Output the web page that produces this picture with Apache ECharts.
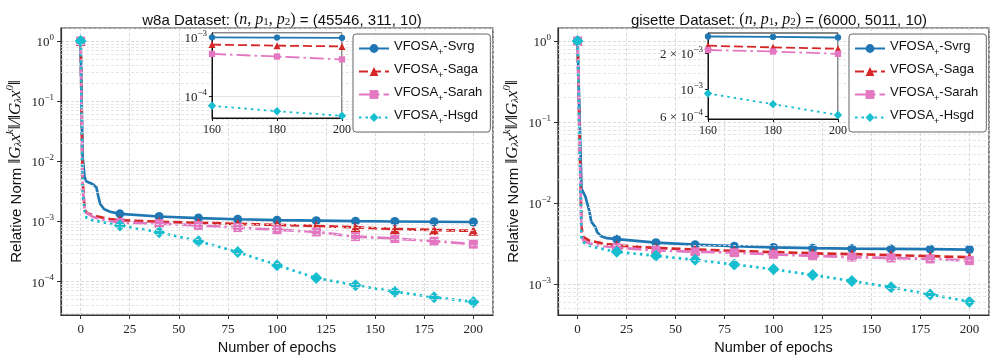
<!DOCTYPE html>
<html>
<head>
<meta charset="utf-8">
<script src="https://cdn.jsdelivr.net/npm/echarts@6.0.0/dist/echarts.min.js"></script>
<style>
  html, body { margin: 0; padding: 0; background: #fff; }
  #chart { width: 997px; height: 361px; }
</style>
</head>
<body>
<div id="chart"></div>
<script>
// ---- data ----
var seriesNames = ['VFOSA+-Svrg', 'VFOSA+-Saga', 'VFOSA+-Sarah', 'VFOSA+-Hsgd'];

// w8a panel
var w8aEpochs = [0, 1, 2, 3, 4, 6, 8, 9, 10, 12, 15, 20, 40, 60, 80, 100, 120, 140, 160, 180, 200];
var w8aSvrg  = [1, 1.2e-2, 5.5e-3, 4.6e-3, 4.4e-3, 4.2e-3, 3.7e-3, 2.6e-3, 1.95e-3, 1.6e-3, 1.45e-3, 1.34e-3, 1.21e-3, 1.14e-3, 1.09e-3, 1.05e-3, 1.03e-3, 1.01e-3, 1.0e-3, 0.99e-3, 0.98e-3];
var w8aSaga  = [1, 5e-3, 1.6e-3, 1.4e-3, 1.33e-3, 1.27e-3, 1.22e-3, 1.2e-3, 1.18e-3, 1.14e-3, 1.1e-3, 1.05e-3, 0.99e-3, 0.95e-3, 0.91e-3, 0.88e-3, 0.84e-3, 0.8e-3, 0.75e-3, 0.72e-3, 0.7e-3];
var w8aSarah = [1, 4e-3, 1.7e-3, 1.4e-3, 1.3e-3, 1.2e-3, 1.14e-3, 1.12e-3, 1.1e-3, 1.06e-3, 1.02e-3, 0.96e-3, 0.92e-3, 0.86e-3, 0.79e-3, 0.73e-3, 0.67e-3, 0.56e-3, 0.52e-3, 0.47e-3, 0.42e-3];
var w8aHsgd  = [1, 3e-3, 1.5e-3, 1.15e-3, 1.1e-3, 1.05e-3, 1.02e-3, 1.0e-3, 0.99e-3, 0.96e-3, 0.92e-3, 0.86e-3, 0.66e-3, 0.47e-3, 0.31e-3, 1.88e-4, 1.15e-4, 8.7e-5, 6.8e-5, 5.5e-5, 4.6e-5];

// gisette panel
var gisEpochs = [0, 2, 3, 4, 6, 7, 8, 9, 10, 12, 15, 20, 40, 60, 80, 100, 120, 140, 160, 180, 200];
var gisSvrg  = [1, 1.5e-2, 1.35e-2, 1.2e-2, 8e-3, 5.9e-3, 5.6e-3, 5.1e-3, 4.4e-3, 3.9e-3, 3.7e-3, 3.6e-3, 3.26e-3, 3.08e-3, 2.95e-3, 2.85e-3, 2.79e-3, 2.75e-3, 2.73e-3, 2.71e-3, 2.68e-3];
var gisSaga  = [1, 5e-3, 3.8e-3, 3.6e-3, 3.45e-3, 3.42e-3, 3.38e-3, 3.35e-3, 3.3e-3, 3.22e-3, 3.12e-3, 3.02e-3, 2.8e-3, 2.68e-3, 2.58e-3, 2.49e-3, 2.41e-3, 2.35e-3, 2.29e-3, 2.22e-3, 2.16e-3];
var gisSarah = [1, 4e-3, 3.45e-3, 3.3e-3, 3.2e-3, 3.15e-3, 3.1e-3, 3.07e-3, 3.04e-3, 2.98e-3, 2.92e-3, 2.82e-3, 2.62e-3, 2.52e-3, 2.45e-3, 2.34e-3, 2.24e-3, 2.16e-3, 2.11e-3, 2.05e-3, 1.96e-3];
var gisHsgd  = [1, 3.6e-3, 3.3e-3, 3.15e-3, 3.0e-3, 2.92e-3, 2.88e-3, 2.85e-3, 2.82e-3, 2.75e-3, 2.65e-3, 2.52e-3, 2.24e-3, 2.0e-3, 1.75e-3, 1.53e-3, 1.3e-3, 1.1e-3, 9.2e-4, 7.5e-4, 6.1e-4];

// tick labels of the gisette inset
var gisInsetTicks = [6e-4, 1e-3, 2e-3];

var chart = echarts.init(document.getElementById('chart'));

var SERIF = 'Liberation Serif';
var SANS = 'Liberation Sans';
var styles = [
  {color: '#1f77b4', symbol: 'circle',   type: 'solid',           size: 9},
  {color: '#d62728', symbol: 'triangle', type: [9, 4],            size: 10},
  {color: '#e377c2', symbol: 'rect',     type: [14, 4, 2.5, 4],   size: 9},
  {color: '#17becf', symbol: 'diamond',  type: [2.5, 4],          size: 12}
];

var supRich = {
  b: {fontFamily: SERIF, fontSize: 13, color: '#222', verticalAlign: 'bottom', lineHeight: 16},
  p: {fontFamily: SERIF, fontSize: 9, color: '#222', verticalAlign: 'top', lineHeight: 8}
};
function expLabel(v) {
  var k = Math.round(v);
  if (Math.abs(v - k) > 1e-6) return '';
  return '{b|10}{p|' + (k === 0 ? '0' : '\u2212' + (-k)) + '}';
}
function insetGisLabel(v) {
  var real = Math.pow(10, v);
  var k = Math.floor(v + 1e-9);
  var m = Math.round(real / Math.pow(10, k));
  var head = m === 1 ? '10' : m + ' \u00d7 10';
  return '{b|' + head + '}{p|\u2212' + (-k) + '}';
}
function minorLevels(lo, hi) {
  var out = [];
  for (var d = Math.floor(lo); d <= Math.ceil(hi); d++) {
    for (var k = 2; k <= 9; k++) {
      var v = d + Math.log10(k);
      if (v > lo && v < hi) out.push({yAxis: v});
    }
  }
  return out;
}

function lineSeries(name, epochs, vals, st, idx, inset) {
  var data = [];
  for (var i = 0; i < epochs.length; i++) {
    if (inset && epochs[i] < 160) continue;
    var item = {value: [epochs[i], Math.log10(vals[i])]};
    if (epochs[i] % 20 !== 0) item.symbol = 'none';
    data.push(item);
  }
  return {
    type: 'line', name: name, xAxisIndex: idx, yAxisIndex: idx,
    data: data, symbol: st.symbol,
    symbolSize: inset ? st.size * 0.7 : st.size,
    showAllSymbol: true, clip: true, animation: false,
    z: inset ? 12 : 2,
    itemStyle: {color: st.color, borderWidth: 0, borderType: 'solid'},
    lineStyle: {color: st.color, width: inset ? 1.8 : 2.7, type: st.type},
    emphasis: {disabled: true}
  };
}
function gridHelper(idx, lo, hi, inset) {
  return {
    type: 'line', xAxisIndex: idx, yAxisIndex: idx, data: [], silent: true,
    z: inset ? 11 : 1, animation: false,
    markLine: {
      silent: true, symbol: ['none', 'none'], label: {show: false}, animation: false,
      lineStyle: inset ? {color: '#e6e6e6', width: 0.8, type: 'solid'}
                       : {color: '#e0e0e0', width: 0.8, type: [3, 2]},
      data: minorLevels(lo, hi)
    }
  };
}

var panels = [
  {epochs: w8aEpochs, vals: [w8aSvrg, w8aSaga, w8aSarah, w8aHsgd],
   yMin: -4.555, yMax: 0.217, inMin: -4.375, inMax: -2.927},
  {epochs: gisEpochs, vals: [gisSvrg, gisSaga, gisSarah, gisHsgd],
   yMin: -3.379, yMax: 0.16, inMin: Math.log10(5.65e-4), inMax: Math.log10(2.92e-3)}
];

var grids = [
  {left: 61, top: 28, width: 432, height: 287},
  {left: 212, top: 33, width: 130, height: 85},
  {left: 558, top: 28, width: 431, height: 287},
  {left: 708, top: 33, width: 130, height: 86}
];

var xAxes = [], yAxes = [], series = [];
var yName = '{t|Relative Norm }{m|\u2016G}{s|\u03bb}{m|x}{u|k}{m|\u2016/\u2016G}{s|\u03bb}{m|x}{u|0}{m|\u2016}';
var yNameRich = {
  t: {fontFamily: SANS, fontSize: 15, color: '#111', verticalAlign: 'bottom', lineHeight: 19},
  m: {fontFamily: SERIF, fontStyle: 'italic', fontSize: 17, color: '#111', verticalAlign: 'bottom', lineHeight: 19},
  s: {fontFamily: SERIF, fontStyle: 'italic', fontSize: 11, color: '#111', verticalAlign: 'bottom', lineHeight: 15},
  u: {fontFamily: SERIF, fontStyle: 'italic', fontSize: 11, color: '#111', verticalAlign: 'top', lineHeight: 10}
};

panels.forEach(function (p, pi) {
  var mi = pi * 2, ii = pi * 2 + 1;
  grids[mi].show = true; grids[mi].borderColor = '#333'; grids[mi].borderWidth = 1.2;
  grids[ii].show = true; grids[ii].borderColor = '#111'; grids[ii].borderWidth = 1;
  grids[ii].backgroundColor = '#fff'; grids[ii].z = 10;

  xAxes[mi] = {
    gridIndex: mi, type: 'value', min: -10, max: 210, minInterval: 25, maxInterval: 25,
    axisLine: {show: true, onZero: false, lineStyle: {color: '#333', width: 1.2}},
    axisTick: {show: true, length: 4, lineStyle: {color: '#333'}},
    axisLabel: {showMinLabel: false, showMaxLabel: false, fontFamily: SERIF, fontSize: 13, color: '#222', margin: 8},
    splitLine: {show: true, lineStyle: {color: '#cfcfcf', width: 0.8, type: [3, 2]}},
    name: 'Number of epochs', nameLocation: 'middle', nameGap: 25,
    nameTextStyle: {fontFamily: SANS, fontSize: 14.5, color: '#111'}
  };
  yAxes[mi] = {
    gridIndex: mi, type: 'value', min: p.yMin, max: p.yMax, minInterval: 1, maxInterval: 1,
    axisLine: {show: true, onZero: false, lineStyle: {color: '#333', width: 1.2}},
    axisTick: {show: true, length: 4, lineStyle: {color: '#333'}},
    axisLabel: {showMinLabel: false, showMaxLabel: false, formatter: expLabel, rich: supRich, margin: 7},
    splitLine: {show: true, lineStyle: {color: '#cfcfcf', width: 0.8, type: [3, 2]}},
    name: yName, nameLocation: 'middle', nameRotate: 90, nameGap: 37,
    nameTextStyle: {rich: yNameRich}
  };
  xAxes[ii] = {
    gridIndex: ii, type: 'value', min: 160, max: 200, interval: 20, z: 11,
    axisLine: {show: true, onZero: false, lineStyle: {color: '#111', width: 1}},
    axisTick: {show: true, length: 3, lineStyle: {color: '#111'}},
    axisLabel: {fontFamily: SERIF, fontSize: 12, color: '#222', margin: 6},
    splitLine: {show: true, lineStyle: {color: '#dcdcdc', width: 0.8}}
  };
  var inY = {
    gridIndex: ii, type: 'value', min: p.inMin, max: p.inMax, z: 11,
    axisLine: {show: true, onZero: false, lineStyle: {color: '#111', width: 1}},
    axisTick: {show: true, length: 3, lineStyle: {color: '#111'}},
    splitLine: {show: true, lineStyle: {color: '#dcdcdc', width: 0.8}}
  };
  if (pi === 0) {
    inY.minInterval = 1; inY.maxInterval = 1;
    inY.axisLabel = {showMinLabel: false, showMaxLabel: false, formatter: expLabel, rich: supRich, margin: 5};
  } else {
    var cv = gisInsetTicks.map(function (v) { return Math.log10(v); });
    inY.axisLabel = {customValues: cv, formatter: insetGisLabel, rich: supRich, margin: 5};
    inY.axisTick = {show: true, length: 3, customValues: cv, lineStyle: {color: '#111'}};
    inY.splitLine = {show: false};
  }
  yAxes[ii] = inY;

  series.push(gridHelper(mi, p.yMin, p.yMax, false));
  series.push(gridHelper(ii, p.inMin, p.inMax, true));
  for (var s = 0; s < 4; s++) {
    series.push(lineSeries(seriesNames[s], p.epochs, p.vals[s], styles[s], mi, false));
    series.push(lineSeries(seriesNames[s], p.epochs, p.vals[s], styles[s], ii, true));
  }
});

function legendAt(left) {
  return {
    data: seriesNames, orient: 'vertical', left: left, top: 34,
    itemWidth: 30, itemHeight: 11, itemGap: 6, padding: [6, 8, 6, 5],
    backgroundColor: 'rgba(255,255,255,0.85)', borderColor: '#666', borderWidth: 1, borderRadius: 3,
    selectedMode: false, z: 20,
    formatter: function (n) { return '{n|' + n.replace('+', '}{s|+}{n|') + '}'; },
    textStyle: {
      rich: {
        n: {fontFamily: SANS, fontSize: 13, color: '#111', verticalAlign: 'top', lineHeight: 14},
        s: {fontFamily: SANS, fontSize: 9, color: '#111', verticalAlign: 'bottom', lineHeight: 17}
      }
    }
  };
}

function titleAt(x, name, nums) {
  var base = {color: '#111', fontWeight: 'normal', lineHeight: 18, verticalAlign: 'bottom'};
  return {
    left: x, top: 5, textAlign: 'center',
    text: '{t|' + name + ' Dataset: }{r|(}{i|n}{r|, }{i|p}{s|1}{r|, }{i|p}{s|2}{r|)}{t| = (' + nums + ')}',
    textStyle: {
      fontWeight: 'normal',
      rich: {
        t: Object.assign({fontFamily: SANS, fontSize: 15}, base),
        r: Object.assign({fontFamily: SERIF, fontSize: 16}, base),
        i: Object.assign({fontFamily: SERIF, fontStyle: 'italic', fontSize: 16}, base),
        s: Object.assign({fontFamily: SERIF, fontSize: 11}, base, {lineHeight: 14})
      }
    }
  };
}

chart.setOption({
  backgroundColor: '#fff',
  animation: false,
  title: [titleAt(277, 'w8a', '45546, 311, 10'), titleAt(774, 'gisette', '6000, 5011, 10')],
  legend: [legendAt(353), legendAt(849)],
  grid: grids,
  xAxis: xAxes,
  yAxis: yAxes,
  series: series
});
</script>
</body>
</html>
